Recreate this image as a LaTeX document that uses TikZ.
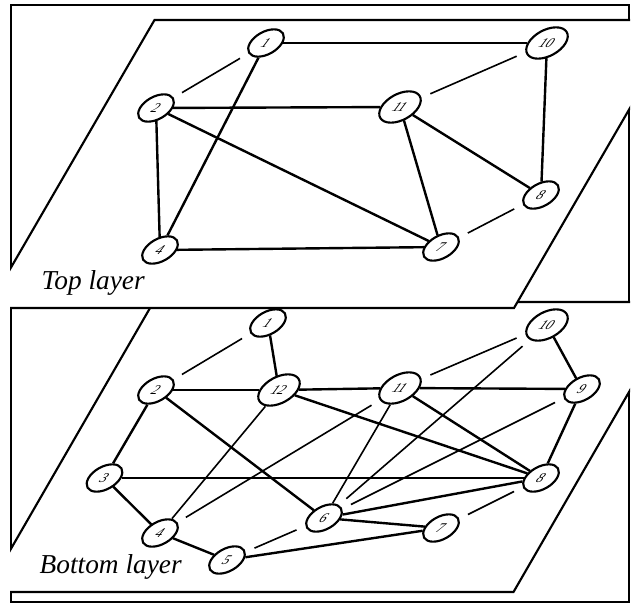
\documentclass[tikz,border=0pt]{standalone}
\usepackage{fontspec}
\setmainfont{Liberation Serif}
\usetikzlibrary{shapes.geometric}
\tikzset{
  vtx/.style={ellipse,draw,line width=1.6pt,fill=white,inner sep=0pt,
    minimum width=24pt,minimum height=20.5pt,xslant=0.58,transform shape,
    font=\fontsize{10}{10}\selectfont\itshape},
  vtxwide/.style={vtx,minimum width=28pt,minimum height=23.5pt},
  heavy/.style={line width=1.8pt},
  light/.style={line width=1.2pt},
  loose/.style={light,shorten <=7pt,shorten >=7pt},
  frame/.style={line width=2pt},
  plane/.style={line width=1.6pt,fill=white},
  layername/.style={anchor=base west,font=\fontsize{20.5}{22}\selectfont\itshape}
}

\begin{document}
\begin{tikzpicture}[x=0.75pt,y=-0.75pt]
  \useasboundingbox (0,0) rectangle (642,603);
  % lower level
  \draw[frame] (11,302) rectangle (629,602);
  \begin{scope}
    \clip (10,0) rectangle (630,603);
    \filldraw[plane] (153.5,302) -- (681,302) -- (513.5,592) -- (-14,592) -- cycle;
  \end{scope}
  % upper level, on top of the lower one
  \draw[frame] (11,5) rectangle (629,302);
  \begin{scope}
    \clip (10,0) rectangle (630,603);
    \filldraw[plane] (154.5,20) -- (681,20) -- (514,308) -- (-12.5,308) -- cycle;
  \end{scope}

  \foreach \n/\x/\y in {1/266/43, 2/156/108, 8/541/195, 4/160/250, 7/441/247}
    \node[vtx] (t\n) at (\x,\y) {\n};
  \foreach \n/\x/\y in {10/547/43, 11/400/107}
    \node[vtxwide] (t\n) at (\x,\y) {\n};
  \foreach \a/\b/\s in {1/10/heavy, 1/4/heavy, 2/11/heavy, 2/4/heavy, 2/7/heavy,
      4/7/heavy, 11/7/heavy, 11/8/heavy, 10/8/heavy,
      1/2/loose, 10/11/loose, 8/7/loose}
    \draw[\s] (t\a) -- (t\b);
  \node[layername] (toplbl) at (37,289) {Top layer};

  \foreach \n/\x/\y in {1/268/323, 2/156/390, 9/582/389, 3/104.5/478, 8/541/478,
      6/324/518, 7/441/528, 4/160/533, 5/227/560}
    \node[vtx] (b\n) at (\x,\y) {\n};
  \foreach \n/\x/\y in {10/547/325, 12/279/390, 11/400/388}
    \node[vtxwide] (b\n) at (\x,\y) {\n};
  \foreach \a/\b/\s in {1/12/heavy, 2/12/heavy, 12/11/heavy, 11/9/heavy, 10/9/heavy,
      9/8/heavy, 11/8/heavy, 12/8/heavy, 2/6/heavy, 2/3/heavy, 3/4/heavy,
      4/5/heavy, 6/7/heavy, 6/8/heavy, 5/7/heavy, 3/8/heavy,
      12/4/light, 11/6/light,
      1/2/loose, 10/11/loose, 7/8/loose, 5/6/loose, 11/4/loose, 10/6/loose, 9/6/loose}
    \draw[\s] (b\a) -- (b\b);
  \node[layername] (botlbl) at (35,573) {Bottom layer};
\end{tikzpicture}
\end{document}
